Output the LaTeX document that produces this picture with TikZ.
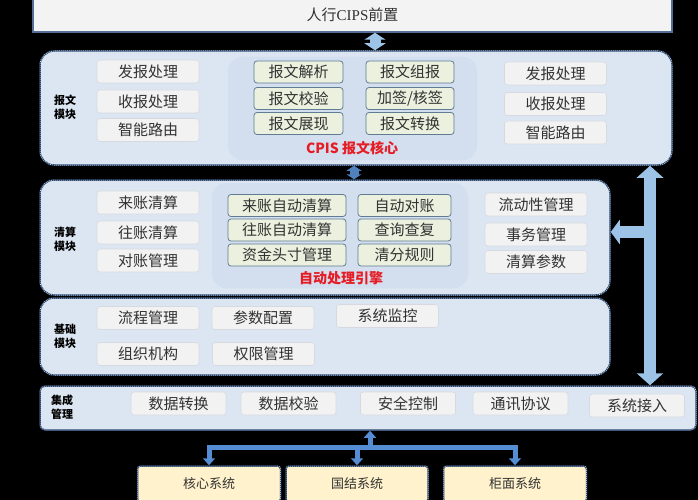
\documentclass[tikz,border=0pt]{standalone}
\usepackage{fontspec}
\setmainfont{Noto Sans CJK SC}
\newfontfamily\serifl{Liberation Serif}
\usetikzlibrary{arrows.meta}
\definecolor{modfill}{RGB}{220,230,242}
\definecolor{panelfill}{RGB}{211,222,239}
\definecolor{modline}{RGB}{38,66,104}
\definecolor{itemfill}{RGB}{242,242,242}
\definecolor{itemline}{RGB}{214,218,224}
\definecolor{itemtext}{RGB}{50,50,50}
\definecolor{gfill}{RGB}{235,241,222}
\definecolor{gline}{RGB}{96,124,146}
\definecolor{redtxt}{RGB}{230,28,36}
\definecolor{yfill}{RGB}{255,242,204}
\definecolor{topfill}{RGB}{243,243,243}
\definecolor{topline}{RGB}{84,112,150}
\definecolor{arrowlight}{RGB}{157,195,230}
\definecolor{arrowmid}{RGB}{79,129,189}
\definecolor{connblue}{RGB}{84,141,212}
\tikzset{
  module/.style={draw=modline, line width=1.5pt, fill=modfill, rounded corners=14pt, inner sep=0pt,
    postaction={draw=white, line width=0.5pt, dash pattern=on 0.8pt off 1.2pt}},
  panel/.style={fill=panelfill, draw=none, rounded corners=14pt, inner sep=0pt},
  item/.style={draw=itemline, line width=0.6pt, fill=itemfill, rounded corners=3pt, inner sep=0pt,
    minimum width=102pt, minimum height=23pt, text=itemtext, font=\fontsize{15}{15}\selectfont},
  gitem/.style={draw=gline, line width=0.8pt, fill=gfill, rounded corners=3pt, inner sep=0pt,
    minimum height=22pt, text=itemtext, font=\fontsize{15}{15}\selectfont},
  lbl/.style={align=center, text=black, font=\fontsize{11}{14}\selectfont\bfseries, inner sep=0pt},
  redlbl/.style={text=redtxt, font=\fontsize{14}{14}\selectfont\bfseries, inner sep=0pt},
  sysbox/.style={draw=modline, line width=1.5pt, fill=yfill, rounded corners=3pt, inner sep=0pt,
    minimum width=142pt, minimum height=36pt, text=itemtext, font=\fontsize{13}{13}\selectfont,
    postaction={draw=white, line width=0.5pt, dash pattern=on 0.8pt off 1.2pt}},
  conn/.style={draw=connblue, line width=5pt},
  smalltip/.style={Triangle[width=12pt,length=7pt]},
}
\begin{document}
\begin{tikzpicture}[x=1pt,y=-1pt]
\useasboundingbox (0,0) rectangle (698,500);
\fill[black] (0,0) rectangle (698,500);

% top box
\node[draw=topline, line width=1.5pt, fill=topfill, inner sep=0pt, minimum width=639pt, minimum height=34pt,
  text=itemtext, font=\fontsize{15}{15}\selectfont] (top) at (352.5,15) {人行{\serifl CIPS}前置};

% modules
\node[module, minimum width=632pt, minimum height=114pt] (m1) at (356,108) {};
\node[module, minimum width=570pt, minimum height=115pt] (m2) at (325,237.5) {};
\node[module, minimum width=570pt, minimum height=77pt] (m3) at (325,336.5) {};
\node[module, minimum width=656pt, minimum height=44pt, rounded corners=5pt] (m4) at (368,408) {};

% panels
\node[panel, minimum width=249pt, minimum height=103pt] (p1) at (352.5,108.5) {};
\node[panel, minimum width=256pt, minimum height=105pt] (p2) at (340,235.5) {};

% module 1
\node[lbl] (l1) at (65,107) {报文\\模块};
\node[item] (a1) at (148,71.5) {发报处理};
\node[item] (a2) at (148,101.5) {收报处理};
\node[item] (a3) at (148,130) {智能路由};
\node[gitem, minimum width=89pt] (b1) at (298.5,72) {报文解析};
\node[gitem, minimum width=89pt] (b2) at (298.5,98.5) {报文校验};
\node[gitem, minimum width=89pt] (b3) at (298.5,123.5) {报文展现};
\node[gitem, minimum width=88pt] (b4) at (410,72) {报文组报};
\node[gitem, minimum width=88pt] (b5) at (410,98.5) {加签/核签};
\node[gitem, minimum width=88pt] (b6) at (410,123.5) {报文转换};
\node[redlbl] (r1) at (352,148) {CPIS 报文核心};
\node[item] (c1) at (555.5,73.5) {发报处理};
\node[item] (c2) at (555.5,104) {收报处理};
\node[item] (c3) at (555.5,132.5) {智能路由};

% module 2
\node[lbl] (l2) at (65,239) {清算\\模块};
\node[item] (d1) at (148,202.5) {来账清算};
\node[item] (d2) at (148,232.5) {往账清算};
\node[item] (d3) at (148,260.5) {对账管理};
\node[gitem, minimum width=118pt] (e1) at (287,205.5) {来账自动清算};
\node[gitem, minimum width=118pt] (e2) at (287,230) {往账自动清算};
\node[gitem, minimum width=118pt] (e3) at (287,255) {资金头寸管理};
\node[gitem, minimum width=93pt] (e4) at (404.5,205.5) {自动对账};
\node[gitem, minimum width=93pt] (e5) at (404.5,230) {查询查复};
\node[gitem, minimum width=93pt] (e6) at (404.5,255) {清分规则};
\node[redlbl] (r2) at (341,278) {自动处理引擎};
\node[item] (f1) at (536,204.5) {流动性管理};
\node[item] (f2) at (536,234.5) {事务管理};
\node[item] (f3) at (536,262) {清算参数};

% module 3
\node[lbl] (l3) at (65,336) {基础\\模块};
\node[item] (g1) at (148,318) {流程管理};
\node[item] (g2) at (148,354) {组织机构};
\node[item] (g3) at (263,318) {参数配置};
\node[item] (g4) at (263.5,354) {权限管理};
\node[item] (g5) at (387.5,316) {系统监控};

% module 4
\node[lbl, align=left] (l4) at (62,407) {集成\\管理};
\node[item, minimum width=95pt] (h1) at (178.5,403.5) {数据转换};
\node[item, minimum width=95pt] (h2) at (288.5,403.5) {数据校验};
\node[item, minimum width=95pt] (h3) at (408,403.5) {安全控制};
\node[item, minimum width=95pt] (h4) at (520.5,403.5) {通讯协议};
\node[item, minimum width=95pt] (h5) at (637,405.5) {系统接入};

% bottom systems
\node[sysbox, minimum width=143pt] (core) at (209,484) {核心系统};
\node[sysbox] (guojie) at (357,484) {国结系统};
\node[sysbox, minimum width=143pt] (guimian) at (515,484) {柜面系统};

% block arrows
\coordinate (tx) at (375,0);
\coordinate (mx) at (354,0);
\coordinate (rx) at (650,0);
\coordinate (ry) at (0,232);
\draw[line width=11pt, arrowlight, {Triangle[width=21pt,length=7pt]}-{Triangle[width=21pt,length=7pt]}]
  (top.south -| tx) -- (m1.north -| tx);
\draw[line width=9pt, arrowmid, {Triangle[width=15pt,length=5pt]}-{Triangle[width=15pt,length=5pt]}]
  (m1.south -| mx) -- (m2.north -| mx);
\draw[line width=12pt, arrowlight, {Triangle[width=26pt,length=12pt]}-{Triangle[width=26pt,length=12pt]}]
  (m1.south -| rx) -- (m4.north -| rx);
\draw[line width=12pt, arrowlight, -{Triangle[width=24pt,length=9pt]}]
  (rx |- ry) -- (m2.east |- ry);

% bottom connectors
\coordinate (hub) at (370,447);
\draw[conn, {Triangle[width=12pt,length=7pt]}-] (m4.south -| hub) -- (hub);
\foreach \t in {core,guojie,guimian}
  \draw[conn, -{Triangle[width=12pt,length=7pt]}] (hub) -| (\t.north);
\end{tikzpicture}
\end{document}
